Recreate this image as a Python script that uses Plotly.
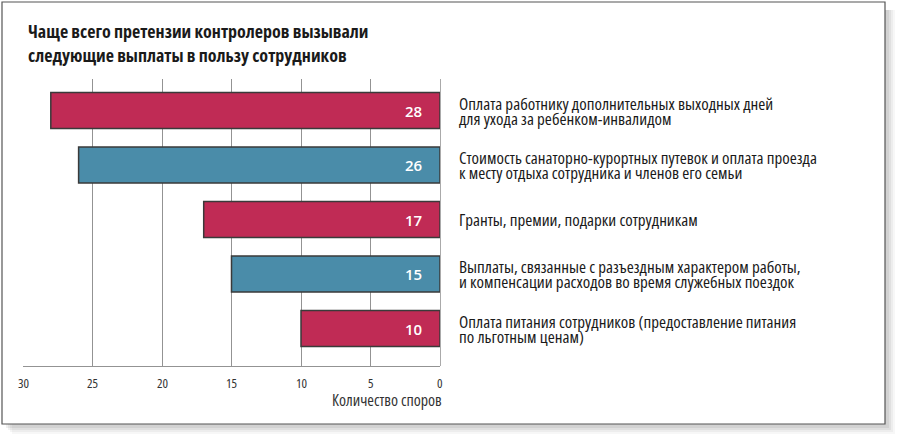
import plotly.graph_objects as go

# ---- data ----
label_lines = [
    ["Оплата работнику дополнительных выходных дней", "для ухода за ребенком-инвалидом"],
    ["Стоимость санаторно-курортных путевок и оплата проезда", "к месту отдыха сотрудника и членов его семьи"],
    ["Гранты, премии, подарки сотрудникам"],
    ["Выплаты, связанные с разъездным характером работы,", "и компенсации расходов во время служебных поездок"],
    ["Оплата питания сотрудников (предоставление питания", "по льготным ценам)"],
]
values = [28, 26, 17, 15, 10]
bar_colors = ["#C02B55", "#4A8CA9", "#C02B55", "#4A8CA9", "#C02B55"]
tick_vals = [30, 25, 20, 15, 10, 5, 0]
tick_text = ["30", "25", "20", "15", "10", "5", "0"]
title_lines = ["Чаще всего претензии контролеров вызывали", "следующие выплаты в пользу сотрудников"]
axis_title = "Количество споров"

categories = [" ".join(l) for l in label_lines]

# ---- layout geometry (pixels) ----
W, H = 900, 440
L, R, T, B = 23, 460, 79, 74
PW, PH = W - L - R, H - T - B


def px_x(p):
    return (p - L) / PW


def px_y(p):
    return (H - B - p) / PH


def cond(s):
    return f'<span style="font-stretch:condensed">{s}</span>'


FONT = "Open Sans, sans-serif"

fig = go.Figure()
fig.add_trace(go.Bar(
    x=values, y=categories, orientation="h",
    marker=dict(color=bar_colors, line=dict(color="#3a3a3a", width=1.5)),
    width=0.66, hoverinfo="skip",
))

ann = []
# value labels
for c, v in zip(categories, values):
    ann.append(dict(x=0, y=c, xref="x", yref="y", text=str(v), showarrow=False,
                    xanchor="right", yanchor="middle", xshift=-16,
                    font=dict(family=FONT, size=15, color="white", weight=600)))
# category labels
for c, lines in zip(categories, label_lines):
    n = len(lines)
    for i, line in enumerate(lines):
        shift = ((n - 1) / 2 - i) * 15
        ann.append(dict(x=1, y=c, xref="paper", yref="y", text=cond(line), showarrow=False,
                        xanchor="left", yanchor="middle", xshift=17, yshift=shift,
                        font=dict(family=FONT, size=17, color="#1a1a1a")))
# title
for i, line in enumerate(title_lines):
    ann.append(dict(x=px_x(26), y=px_y(31 + 24 * i), xref="paper", yref="paper", text=cond(line),
                    showarrow=False, xanchor="left", yanchor="middle",
                    font=dict(family=FONT, size=18, color="#1a1a1a", weight=700)))
# tick labels
for tv, tt in zip(tick_vals, tick_text):
    ann.append(dict(x=tv, y=px_y(383), xref="x", yref="paper", text=cond(tt), showarrow=False,
                    xanchor="center", yanchor="middle",
                    font=dict(family=FONT, size=13, color="#333")))
# axis title
ann.append(dict(x=0, y=px_y(400), xref="x", yref="paper", text=cond(axis_title), showarrow=False,
                xanchor="right", yanchor="middle", xshift=4,
                font=dict(family=FONT, size=16, color="#333")))

shapes = []
# shadow
for k, op in [(10, 0.03), (8, 0.04), (6, 0.05), (4, 0.06)]:
    shapes.append(dict(type="rect", xref="paper", yref="paper", layer="below",
                       x0=px_x(2 + k), x1=px_x(885 + k), y0=px_y(10), y1=px_y(424 + k),
                       line=dict(width=0), fillcolor=f"rgba(0,0,0,{op})"))
# frame
shapes.append(dict(type="rect", xref="paper", yref="paper", layer="below",
                   x0=px_x(2), x1=px_x(885), y0=px_y(2), y1=px_y(424),
                   line=dict(color="#555", width=1.2), fillcolor="white"))

fig.update_layout(
    width=W, height=H,
    margin=dict(l=L, r=R, t=T, b=B),
    paper_bgcolor="white", plot_bgcolor="rgba(0,0,0,0)",
    showlegend=False,
    annotations=ann, shapes=shapes,
    xaxis=dict(range=[30, 0], tickvals=tick_vals, showticklabels=False,
               showgrid=True, gridcolor="#939393", gridwidth=1,
               zeroline=True, zerolinecolor="#aaa", zerolinewidth=1,
               showline=True, linecolor="#939393", linewidth=1, fixedrange=True),
    yaxis=dict(type="category", categoryorder="array", categoryarray=categories,
               range=[4.688, -0.578], visible=False, fixedrange=True),
)

fig.write_html("out.html", config=dict(displayModeBar=False),
               post_script="document.body.style.margin='0';")
